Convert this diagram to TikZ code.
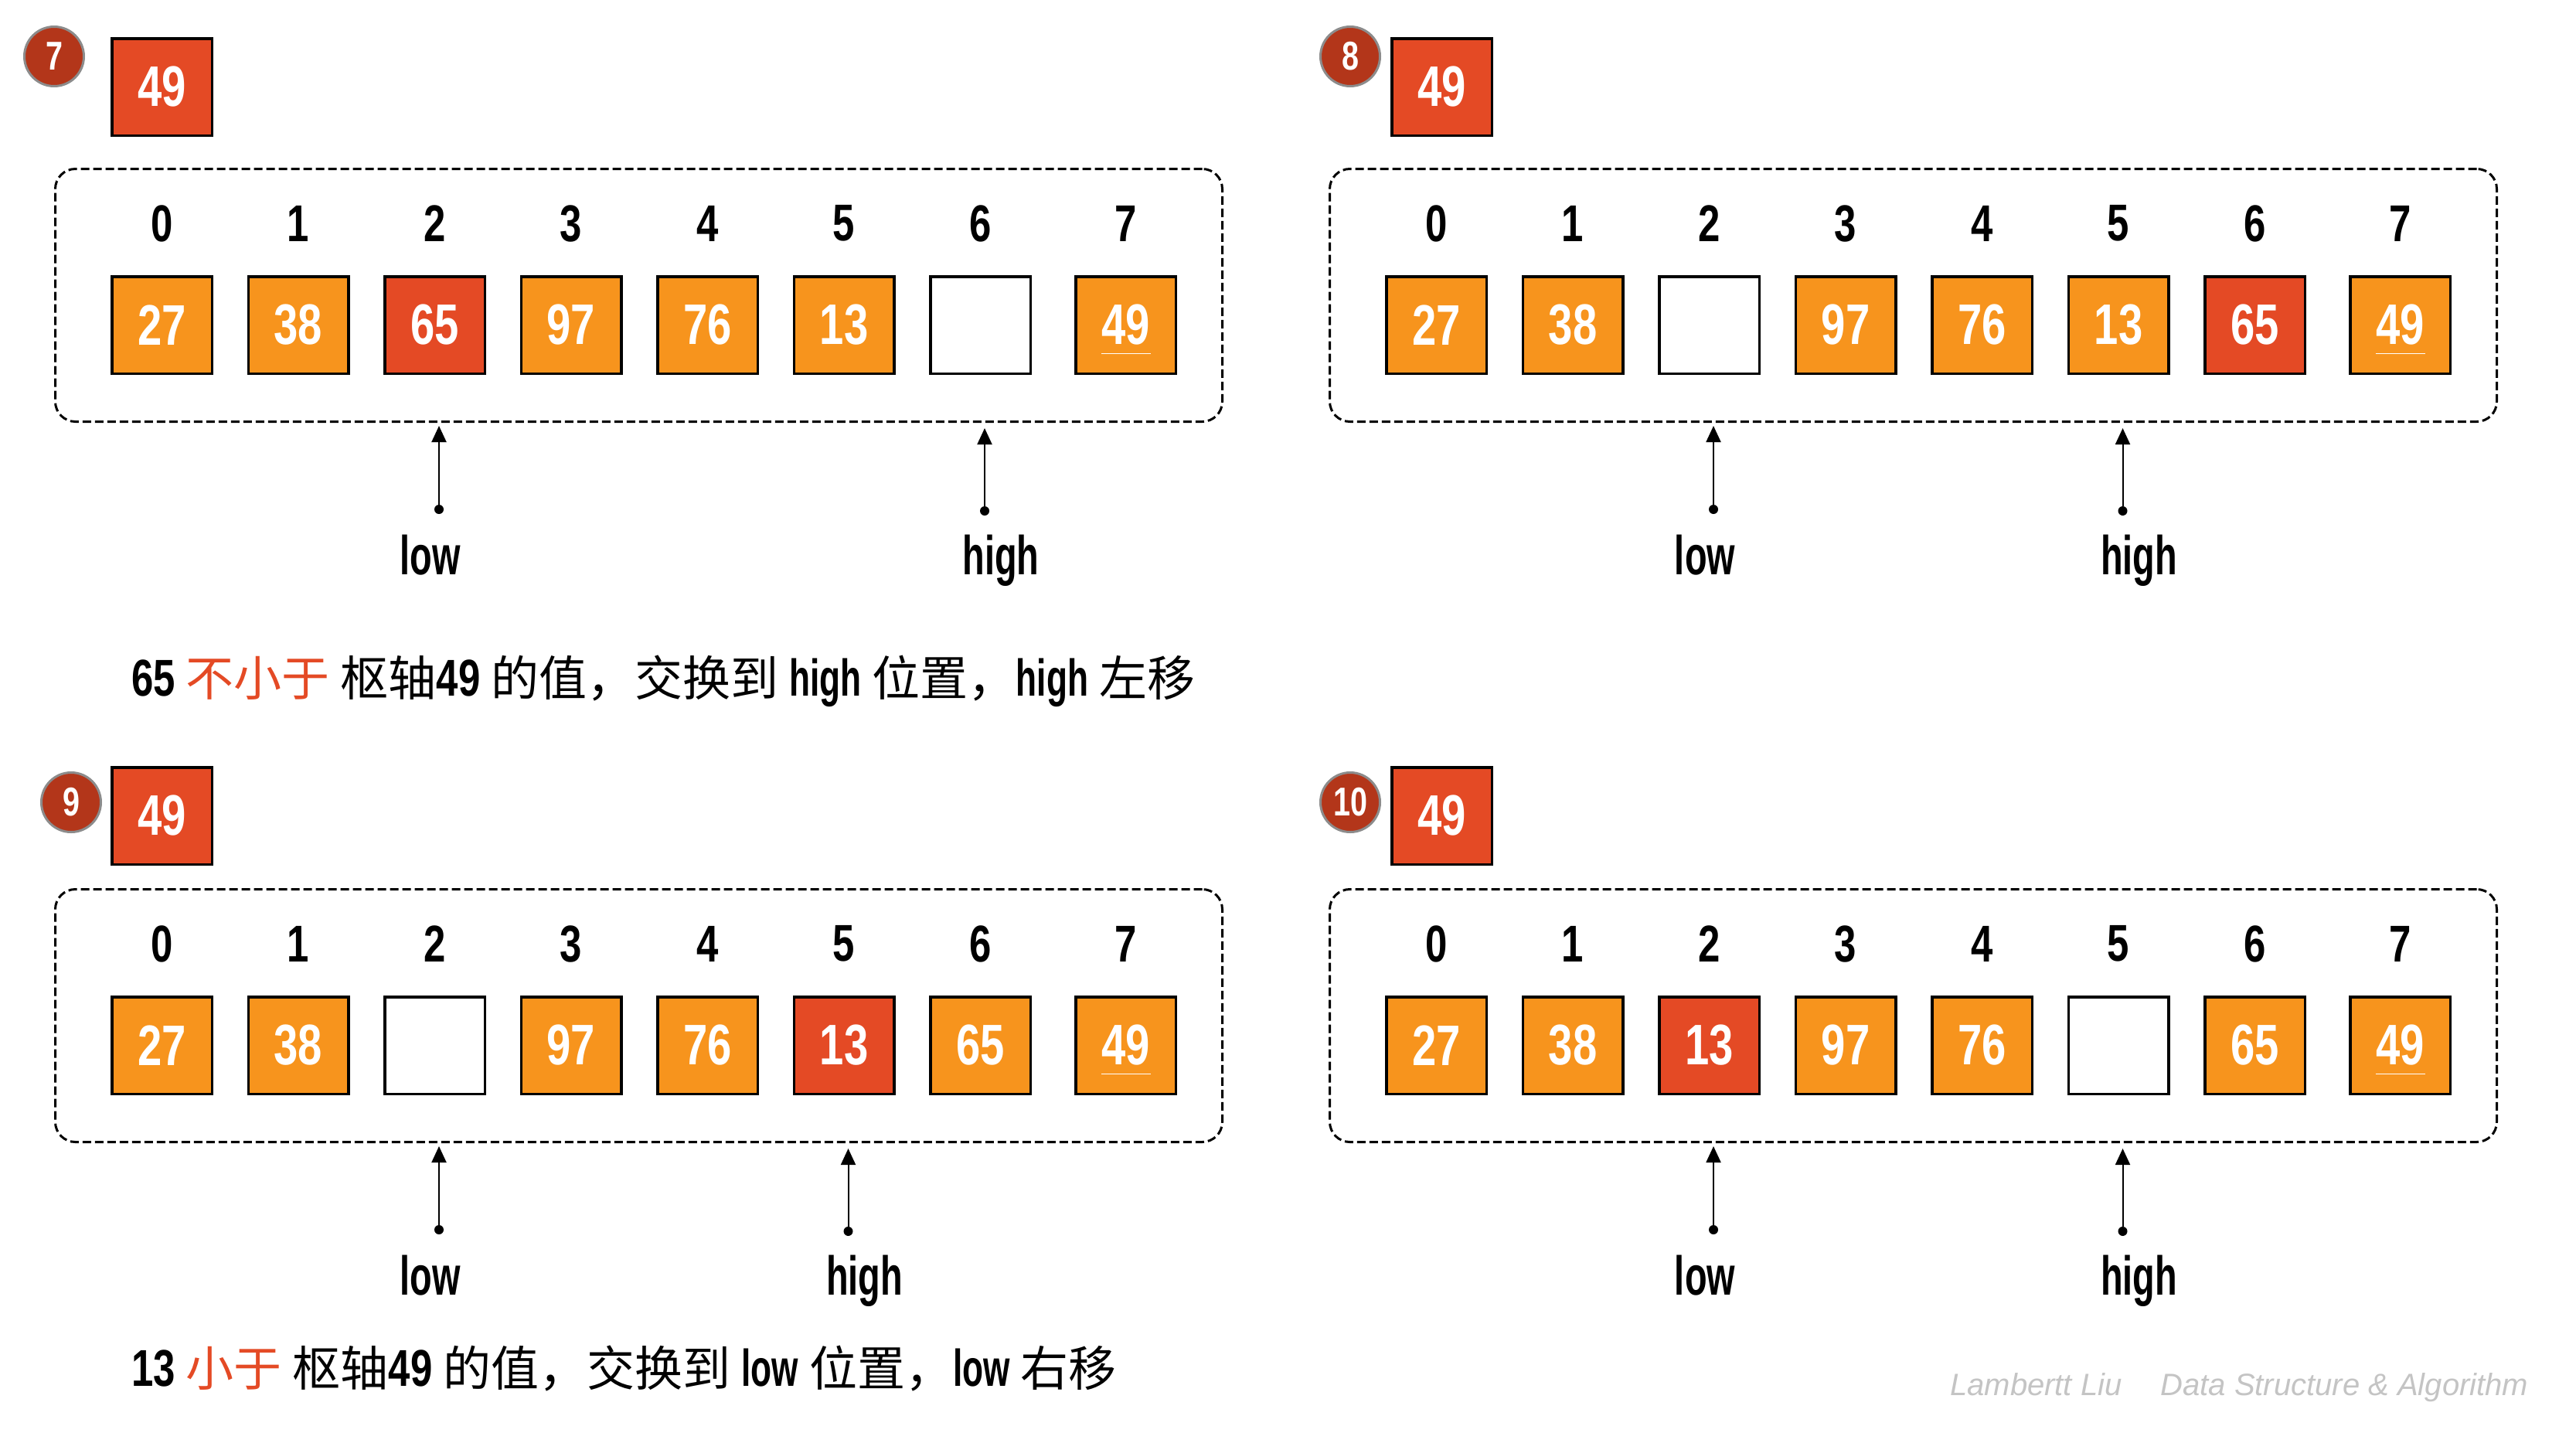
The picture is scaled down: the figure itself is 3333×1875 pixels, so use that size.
\documentclass[tikz,border=0pt]{standalone}
\usepackage{fontspec}
\setmainfont{Liberation Sans}
\newfontfamily\agencyL[FakeStretch=0.66]{Liberation Sans}
\newfontfamily\agencyD[FakeStretch=0.76]{Liberation Sans}
\newfontfamily\cjkfont{Noto Sans CJK SC}
\usetikzlibrary{arrows.meta}
\definecolor{orng}{HTML}{F7941D}
\definecolor{redc}{HTML}{E44A25}
\definecolor{badgec}{HTML}{B3361A}
\definecolor{badgeb}{HTML}{8C8C8C}
\definecolor{wmc}{HTML}{C4C4C4}
\newcommand\digfont[1]{\agencyD\bfseries\fontsize{#1}{#1}\selectfont}
\newcommand\letfont[1]{\agencyL\bfseries\fontsize{#1}{#1}\selectfont}
\newcommand\txL[1]{{\letfont{67}#1}}
\newcommand\txD[1]{{\digfont{67}#1}}
\newcommand\txC[1]{{\cjkfont\fontsize{62}{62}\selectfont #1}}
\tikzset{
  cellbox/.style={draw=black, line width=3.5pt, minimum width=129.5pt, minimum height=125.5pt, inner sep=0pt, text=white, font={\digfont{74}}},
  c-o/.style={fill=orng}, c-r/.style={fill=redc}, c-w/.style={fill=white},
  idx/.style={inner sep=0pt, font={\digfont{67}}},
  badge/.style={circle, fill=badgec, draw=badgeb, line width=3pt, minimum size=77pt, inner sep=0pt, text=white, font={\digfont{52}}},
  dashbox/.style={draw=black, line width=3pt, dash pattern=on 11pt off 5pt, rounded corners=26pt, minimum width=1510pt, minimum height=327pt, inner sep=0pt},
  ptdot/.style={circle, fill=black, minimum size=12pt, inner sep=0pt},
  ptr/.style={line width=2pt, -{Triangle[length=21pt,width=19pt]}},
  ptlbl/.style={anchor=base, inner sep=0pt, font={\letfont{71}}},
}
\newcommand\drawpanel[6]{%
  \node[dashbox] (#1box) at ({826.5+#2},{382+#3}) {};
  \foreach \v/\ty [count=\i from 0] in {#4}{%
    \pgfmathsetmacro\cx{209.5+176.5*\i+ifthenelse(\i==7,11.5,0)+#2}
    \node[idx] (#1i\i) at (\cx,{289+#3}) {\i};
    \node[cellbox, c-\ty] (#1c\i) at (\cx,{420.5+#3}) {\v};
  }
  \draw[white, line width=1.5pt] ([xshift=-32pt,yshift=-37pt]#1c7.center) -- ([xshift=32pt,yshift=-37pt]#1c7.center);
  \node[ptdot] (#1ld) at ({215+176.5*#5+#2},{659+#3}) {};
  \coordinate (#1lt) at ({215+176.5*#5+#2},{551+#3});
  \draw[ptr] (#1ld) -- (#1lt);
  \node[ptlbl] (#1ll) at ({204+176.5*#5+#2},{743+#3}) {low};
  \node[ptdot] (#1hd) at ({215+176.5*#6+#2},{661+#3}) {};
  \coordinate (#1ht) at ({215+176.5*#6+#2},{554+#3});
  \draw[ptr] (#1hd) -- (#1ht);
  \node[ptlbl] (#1hl) at ({236+176.5*#6+#2},{743+#3}) {high};
}
\begin{document}
\begin{tikzpicture}[x=1pt,y=-1pt]
\useasboundingbox (0,0) rectangle (3333,1875);
\fill[white] (0,0) rectangle (3333,1875);
% badges and pivots
\node[badge] (b7) at (70,73) {7};
\node[cellbox, c-r] (p7) at (209.5,112.5) {49};
\node[badge] (b8) at (1747,73) {8};
\node[cellbox, c-r] (p8) at (1865.5,112.5) {49};
\node[badge] (b9) at (92,1038) {9};
\node[cellbox, c-r] (p9) at (209.5,1055.5) {49};
\node[badge] (b10) at (1747,1038) {10};
\node[cellbox, c-r] (p10) at (1865.5,1055.5) {49};
% panels
\drawpanel{A}{0}{0}{27/o,38/o,65/r,97/o,76/o,13/o,/w,49/o}{2}{6}
\drawpanel{B}{1649}{0}{27/o,38/o,/w,97/o,76/o,13/o,65/r,49/o}{2}{5}
\drawpanel{C}{0}{932}{27/o,38/o,/w,97/o,76/o,13/r,65/o,49/o}{2}{5}
\drawpanel{D}{1649}{932}{27/o,38/o,13/r,97/o,76/o,/w,65/o,49/o}{2}{5}
% explanation lines
\node[anchor=base west, inner sep=0pt] (t1) at (170,900) {\txD{65}\hspace{14pt}\txC{\color{redc}不小于}\hspace{14pt}\txC{枢轴}\txD{49}\hspace{14pt}\txC{的值，交换到}\hspace{14pt}\txL{high}\hspace{14pt}\txC{位置，}\txL{high}\hspace{14pt}\txC{左移}};
\node[anchor=base west, inner sep=0pt] (t2) at (170,1793) {\txD{13}\hspace{14pt}\txC{\color{redc}小于}\hspace{14pt}\txC{枢轴}\txD{49}\hspace{14pt}\txC{的值，交换到}\hspace{14pt}\txL{low}\hspace{14pt}\txC{位置，}\txL{low}\hspace{14pt}\txC{右移}};
% watermark
\node[anchor=base west, inner sep=0pt, text=wmc, font={\itshape\fontsize{40}{40}\selectfont}] (wm) at (2523,1805) {Lambertt Liu\hspace{50pt}Data Structure \& Algorithm};
\end{tikzpicture}
\end{document}
